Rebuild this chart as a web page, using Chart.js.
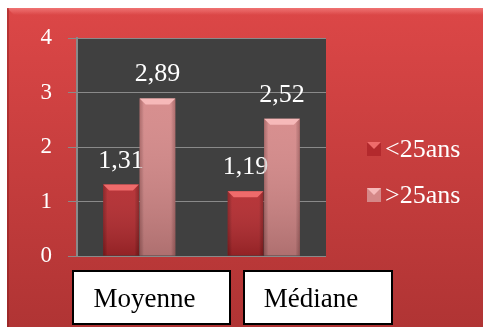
<!DOCTYPE html>
<html>
<head>
<meta charset="utf-8">
<script src="https://cdn.jsdelivr.net/npm/chart.js@4"></script>
<style>
html, body { margin: 0; padding: 0; background: #fff; }
#cadre { width: 483px; height: 327px; }
</style>
</head>
<body>
<div id="cadre"><canvas id="graf" width="483" height="327"></canvas></div>
<script>
// données
const categories = ["Moyenne", "Médiane"];
const series = ["<25ans", ">25ans"];
const moins25 = [1.31, 1.19];
const plus25 = [2.89, 2.52];
const yMin = 0, yMax = 4, yPas = 1;

const SERIF = "'Liberation Serif', serif";

// couleurs des barres : base, clair (biseau), sombre (bords)
const teintes = [
    { base: '#b3292d', haut: '#ef6b6b', bord: 'rgba(70,0,0,0.35)' },
    { base: '#d58888', haut: '#f6b9b9', bord: 'rgba(90,20,20,0.30)' }
];

// cadres blancs des catégories sous l'axe
const cadres = [
    { x: 73, y: 271, w: 157, h: 53 },
    { x: 244, y: 271, w: 148, h: 53 }
];

function virgule(v) {
    return v.toFixed(2).replace('.', ',');
}

// fond rouge + zone de tracé grise
const fond = {
    id: 'fond',
    beforeDraw(chart) {
        const ctx = chart.ctx;
        const W = chart.width, H = chart.height;
        const x0 = 7, y0 = 8;
        ctx.save();
        let g = ctx.createLinearGradient(0, y0, 0, H);
        g.addColorStop(0, '#dc4747');
        g.addColorStop(1, '#b03434');
        ctx.fillStyle = g;
        ctx.fillRect(x0, y0, W - x0, H - y0);
        // biseau du haut
        g = ctx.createLinearGradient(0, y0, 0, y0 + 7);
        g.addColorStop(0, 'rgba(255,150,150,0.55)');
        g.addColorStop(1, 'rgba(255,150,150,0)');
        ctx.fillStyle = g;
        ctx.beginPath();
        ctx.moveTo(x0, y0);
        ctx.lineTo(W, y0);
        ctx.lineTo(W, y0 + 7);
        ctx.lineTo(x0 + 7, y0 + 7);
        ctx.closePath();
        ctx.fill();
        // bord gauche
        ctx.fillStyle = 'rgba(120,20,20,0.35)';
        ctx.fillRect(x0, y0, 2, H - y0);
        const a = chart.chartArea;
        ctx.fillStyle = '#404040';
        ctx.fillRect(a.left, a.top, a.right - a.left, a.bottom - a.top);
        ctx.restore();
    }
};

// relief des barres, étiquettes de valeur
const relief = {
    id: 'relief',
    afterDatasetsDraw(chart) {
        const ctx = chart.ctx;
        ctx.save();
        chart.data.datasets.forEach((ds, i) => {
            const t = teintes[i];
            chart.getDatasetMeta(i).data.forEach((el, j) => {
                const p = el.getProps(['x', 'y', 'base', 'width'], true);
                const l = p.x - p.width / 2, r = p.x + p.width / 2;
                const b = 6;
                // ombre des bords
                let g = ctx.createLinearGradient(l, 0, r, 0);
                g.addColorStop(0, t.bord);
                g.addColorStop(0.12, 'rgba(0,0,0,0)');
                g.addColorStop(0.88, 'rgba(0,0,0,0)');
                g.addColorStop(1, t.bord);
                ctx.fillStyle = g;
                ctx.fillRect(l, p.y, r - l, p.base - p.y);
                g = ctx.createLinearGradient(0, p.y, 0, p.base);
                g.addColorStop(0, 'rgba(255,255,255,0.06)');
                g.addColorStop(1, 'rgba(0,0,0,0.18)');
                ctx.fillStyle = g;
                ctx.fillRect(l, p.y, r - l, p.base - p.y);
                // biseau du sommet
                ctx.fillStyle = t.haut;
                ctx.beginPath();
                ctx.moveTo(l, p.y);
                ctx.lineTo(r, p.y);
                ctx.lineTo(r - b, p.y + b);
                ctx.lineTo(l + b, p.y + b);
                ctx.closePath();
                ctx.fill();
                // valeur
                ctx.fillStyle = '#ffffff';
                ctx.font = '26px ' + SERIF;
                ctx.textAlign = 'center';
                ctx.textBaseline = 'alphabetic';
                ctx.fillText(virgule(ds.data[j]), p.x, p.y - 17);
            });
        });
        ctx.restore();
    }
};

// légende à droite et cadres des catégories
const habillage = {
    id: 'habillage',
    afterDraw(chart) {
        const ctx = chart.ctx;
        ctx.save();
        chart.data.datasets.forEach((ds, i) => {
            const yc = 149 + i * 46;
            const t = teintes[i];
            ctx.fillStyle = t.base;
            ctx.fillRect(367, yc - 7, 14, 14);
            ctx.fillStyle = t.haut;
            ctx.beginPath();
            ctx.moveTo(367, yc - 7);
            ctx.lineTo(381, yc - 7);
            ctx.lineTo(374, yc);
            ctx.closePath();
            ctx.fill();
            ctx.fillStyle = '#ffffff';
            ctx.font = '26px ' + SERIF;
            ctx.textAlign = 'left';
            ctx.textBaseline = 'middle';
            ctx.fillText(ds.label, 385, yc + 1);
        });
        chart.data.labels.forEach((lab, i) => {
            const c = cadres[i];
            ctx.fillStyle = '#ffffff';
            ctx.fillRect(c.x, c.y, c.w, c.h);
            ctx.strokeStyle = '#000000';
            ctx.lineWidth = 2;
            ctx.strokeRect(c.x, c.y, c.w, c.h);
            ctx.fillStyle = '#000000';
            ctx.font = '27px ' + SERIF;
            ctx.textAlign = 'center';
            ctx.textBaseline = 'alphabetic';
            ctx.fillText(lab, c.x + c.w / 2 - 7, c.y + 36);
        });
        ctx.restore();
    }
};

const graf = new Chart(document.getElementById('graf'), {
    type: 'bar',
    data: {
        labels: categories,
        datasets: [
            { label: series[0], data: moins25, backgroundColor: teintes[0].base },
            { label: series[1], data: plus25, backgroundColor: teintes[1].base }
        ]
    },
    options: {
        responsive: false,
        animation: false,
        devicePixelRatio: 1,
        layout: { padding: { top: 38, right: 157, bottom: 71, left: 0 } },
        datasets: { bar: { barPercentage: 0.98, categoryPercentage: 0.585 } },
        scales: {
            x: { display: false },
            y: {
                min: yMin,
                max: yMax,
                afterFit: s => { s.width = 77; },
                ticks: {
                    stepSize: yPas,
                    color: '#ffffff',
                    padding: 16,
                    font: { family: SERIF, size: 23 }
                },
                grid: { color: '#8a8a8a', lineWidth: 1, tickLength: 9 },
                border: { color: '#8a8a8a', width: 2 }
            }
        },
        plugins: {
            legend: { display: false },
            tooltip: { enabled: false }
        }
    },
    plugins: [fond, relief, habillage]
});
</script>
</body>
</html>
